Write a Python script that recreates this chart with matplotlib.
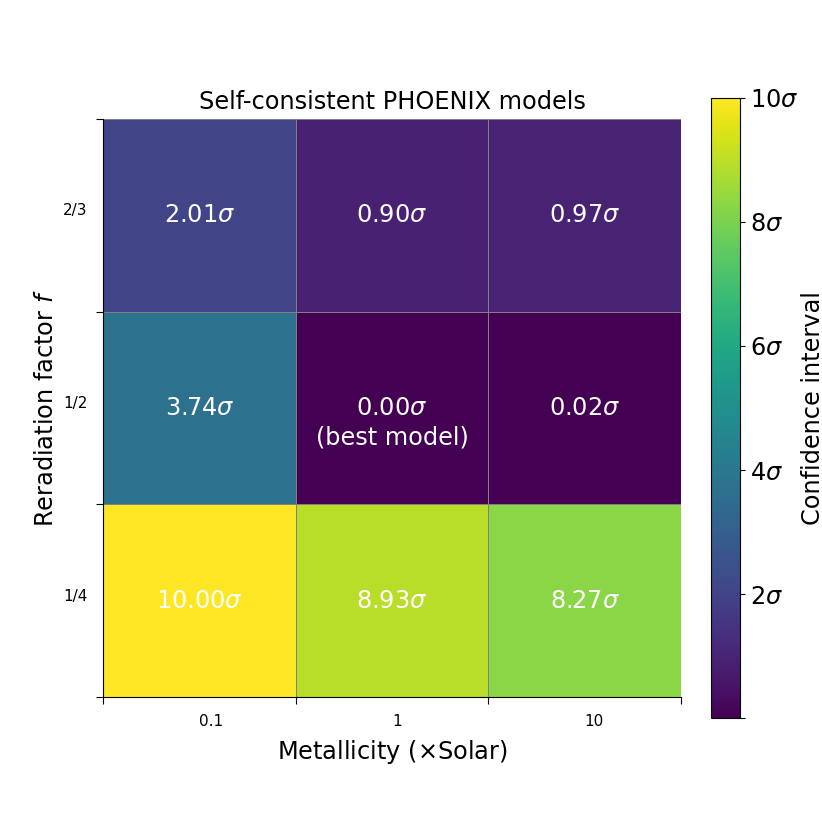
import numpy as np
import matplotlib
matplotlib.use("Agg")
import matplotlib.pyplot as plt

metallicity = ["0.1", "1", "10"]
reradiation = ["1/4", "1/2", "2/3"]
# rows: bottom to top (1/4, 1/2, 2/3)
sigma = np.array([
    [10.00, 8.93, 8.27],
    [3.74, 0.00, 0.02],
    [2.01, 0.90, 0.97],
])
best_row, best_col = 1, 1

fig = plt.figure(figsize=(8.22, 8.22), dpi=100)
ax = fig.add_axes([0.1253, 0.1521, 0.7032, 0.7031])
cax = fig.add_axes([0.865, 0.1265, 0.0353, 0.7543])

mesh = ax.pcolormesh(sigma, cmap="viridis", vmin=0, vmax=10,
                     edgecolors="gray", linewidth=0.6)
for i in range(sigma.shape[0]):
    for j in range(sigma.shape[1]):
        ax.text(j + 0.5, i + 0.5, f"{sigma[i, j]:.2f}$\\sigma$",
                ha="center", va="center", color="white", fontsize=17.28)
ax.annotate("(best model)", xy=(best_col + 0.5, best_row + 0.5),
            xytext=(0, -21), textcoords="offset points",
            ha="center", va="center", color="white", fontsize=17.28)

ax.set_xlim(0, 3)
ax.set_ylim(0, 3)
ax.set_xticks([0, 1, 2, 3])
ax.set_yticks([0, 1, 2, 3])
ax.set_xticklabels([])
ax.set_yticklabels([])
ax.set_xticks([0.5, 1.5, 2.5], minor=True)
ax.set_yticks([0.5, 1.5, 2.5], minor=True)
ax.set_xticklabels(metallicity, minor=True, fontsize=11, ha="left")
ax.set_yticklabels(reradiation, minor=True, fontsize=11, va="baseline")
ax.tick_params(axis="x", which="minor", length=0, pad=12)
ax.tick_params(axis="y", which="minor", length=0, pad=11)
ax.tick_params(which="major", length=5)
for s in ["top", "right"]:
    ax.spines[s].set_visible(False)
ax.set_xlabel("Metallicity ($\\times$Solar)", fontsize=17.28, labelpad=6.5)
ax.set_ylabel("Reradiation factor $f$", fontsize=17.28)
ax.set_title("Self-consistent PHOENIX models", fontsize=17.28, pad=7.5)

cb = fig.colorbar(mesh, cax=cax)
cb.set_ticks([0, 2, 4, 6, 8, 10])
cb.set_ticklabels(["", "2$\\sigma$", "4$\\sigma$", "6$\\sigma$", "8$\\sigma$", "10$\\sigma$"])
cb.ax.tick_params(labelsize=17.28)
cb.set_label("Confidence interval", fontsize=17.28, labelpad=2)

fig.savefig("out.png", dpi=100)
